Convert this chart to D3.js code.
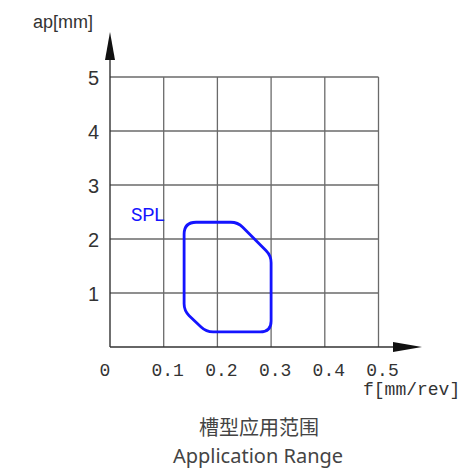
<!DOCTYPE html>
<html>
<head>
<meta charset="utf-8">
<script src="https://cdn.jsdelivr.net/npm/d3@7"></script>
<style>
  html, body { margin: 0; padding: 0; background: #fff; }
  svg { display: block; }
</style>
</head>
<body>
<svg id="chart" width="466" height="476"></svg>
<script>
// Feed (f, mm/rev) and depth of cut (ap, mm) ranges
const xTicks = [0.1, 0.2, 0.3, 0.4, 0.5];
const xTickLabels = ["0.1", "0.2", "0.3", "0.4", "0.5"];
const yTicks = [1, 2, 3, 4, 5];
const yTickLabels = ["1", "2", "3", "4", "5"];

// SPL chipbreaker application area outline (corner points)
const splFeed = [0.138, 0.238, 0.300, 0.300, 0.179, 0.138];
const splDepth = [2.31, 2.31, 1.69, 0.28, 0.28, 0.67];
const seriesName = "SPL";

const titleCn = "槽型应用范围";
const titleEn = "Application Range";
const xAxisTitle = "f[mm/rev]";
const yAxisTitle = "ap[mm]";

const svg = d3.select("#chart");
const x = d3.scaleLinear().domain([0, 0.5]).range([110, 378.5]);
const y = d3.scaleLinear().domain([0, 5]).range([347, 77]);

const gridColor = "#6a6a6a";
const axisColor = "#333";
const blue = "#1414ff";

// grid
const grid = svg.append("g");
grid.selectAll("line.v").data(xTicks).join("line")
  .attr("x1", d => x(d)).attr("x2", d => x(d))
  .attr("y1", y(0)).attr("y2", y(5))
  .attr("stroke", gridColor).attr("stroke-width", 1.3);
grid.selectAll("line.h").data(yTicks).join("line")
  .attr("x1", x(0)).attr("x2", x(0.5))
  .attr("y1", d => y(d)).attr("y2", d => y(d))
  .attr("stroke", gridColor).attr("stroke-width", 1.3);

// axes with arrows
svg.append("line").attr("x1", x(0)).attr("x2", 395)
  .attr("y1", y(0)).attr("y2", y(0))
  .attr("stroke", axisColor).attr("stroke-width", 1.4);
svg.append("line").attr("x1", x(0)).attr("x2", x(0))
  .attr("y1", y(0)).attr("y2", 58)
  .attr("stroke", axisColor).attr("stroke-width", 1.4);
svg.append("path")
  .attr("d", `M${x(0)},32 L${x(0) - 5},60 L${x(0) + 5},60 Z`)
  .attr("fill", "#111");
svg.append("path")
  .attr("d", `M422,${y(0)} L393,${y(0) - 5} L393,${y(0) + 5} Z`)
  .attr("fill", "#111");

// tick labels
const mono = "'Liberation Mono', 'DejaVu Sans Mono', monospace";
svg.selectAll("text.xt").data(xTicks).join("text")
  .attr("x", d => x(d) + 4).attr("y", 376)
  .attr("text-anchor", "middle")
  .attr("font-family", mono).attr("font-size", 18)
  .attr("fill", "#333")
  .text((d, i) => xTickLabels[i]);
svg.append("text").attr("x", x(0) - 5).attr("y", 376)
  .attr("text-anchor", "middle")
  .attr("font-family", mono).attr("font-size", 18)
  .attr("fill", "#333").text("0");
svg.selectAll("text.yt").data(yTicks).join("text")
  .attr("x", 99).attr("y", d => y(d) + 1)
  .attr("dy", "0.36em")
  .attr("text-anchor", "end")
  .attr("font-family", "'Liberation Sans', Arial, sans-serif").attr("font-size", 20)
  .attr("fill", "#333")
  .text((d, i) => yTickLabels[i]);

// axis titles
svg.append("text").attr("x", 363).attr("y", 395)
  .attr("font-family", mono).attr("font-size", 18)
  .attr("fill", "#333").text(xAxisTitle);
svg.append("text").attr("x", 33).attr("y", 28)
  .attr("font-family", "'Liberation Sans', Arial, sans-serif").attr("font-size", 18)
  .attr("fill", "#333").text(yAxisTitle);

// rounded outline of the application area; one corner radius per vertex
function roundedPath(pts, radii) {
  const n = pts.length;
  let d = "";
  for (let i = 0; i < n; i++) {
    const p0 = pts[(i - 1 + n) % n], p1 = pts[i], p2 = pts[(i + 1) % n];
    const d1 = Math.hypot(p0[0] - p1[0], p0[1] - p1[1]);
    const d2 = Math.hypot(p2[0] - p1[0], p2[1] - p1[1]);
    const rr = Math.min(radii[i], d1 / 2, d2 / 2);
    const a = [p1[0] + (p0[0] - p1[0]) * rr / d1, p1[1] + (p0[1] - p1[1]) * rr / d1];
    const b = [p1[0] + (p2[0] - p1[0]) * rr / d2, p1[1] + (p2[1] - p1[1]) * rr / d2];
    d += (i === 0 ? "M" : "L") + a[0] + "," + a[1] + "Q" + p1[0] + "," + p1[1] + " " + b[0] + "," + b[1];
  }
  return d + "Z";
}
const outline = splFeed.map((f, i) => [x(f), y(splDepth[i])]);
svg.append("path")
  .attr("d", roundedPath(outline, [12, 7, 7, 11, 7, 7]))
  .attr("fill", "none").attr("stroke", blue)
  .attr("stroke-width", 2.8).attr("stroke-linejoin", "round");

svg.append("text").attr("x", 131).attr("y", 221)
  .attr("font-family", "Roboto, 'Noto Sans', sans-serif").attr("font-size", 19)
  .attr("fill", blue).text(seriesName);

// chart title, two lines
svg.append("text").attr("x", 259).attr("y", 435)
  .attr("text-anchor", "middle")
  .attr("font-family", "'Noto Sans CJK SC', sans-serif").attr("font-size", 20)
  .attr("fill", "#444").text(titleCn);
svg.append("text").attr("x", 258).attr("y", 463)
  .attr("text-anchor", "middle")
  .attr("font-family", "'Noto Sans', sans-serif").attr("font-size", 20)
  .attr("fill", "#444").text(titleEn);
</script>
</body>
</html>
